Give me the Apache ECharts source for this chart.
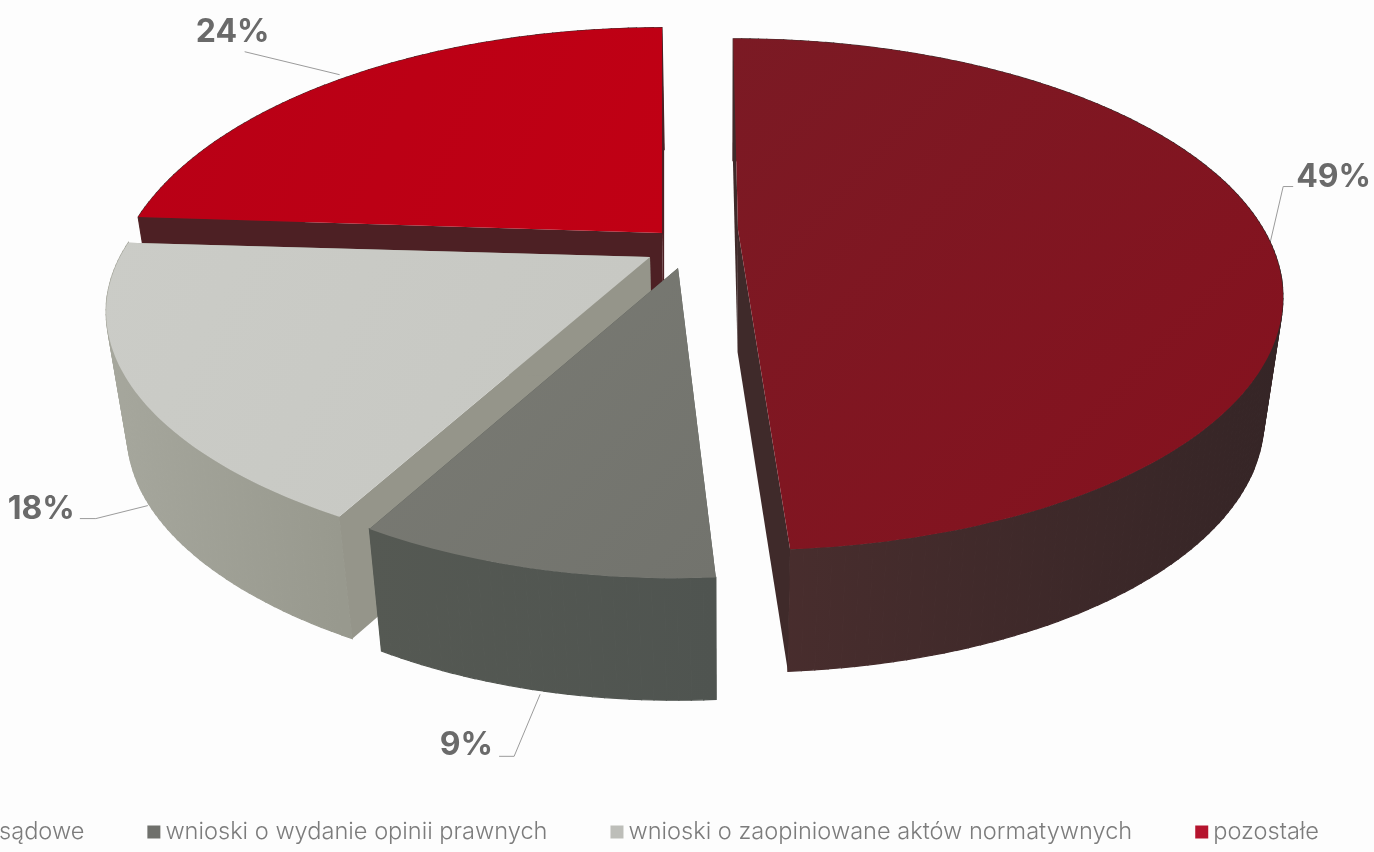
<!DOCTYPE html>
<html><head><meta charset="utf-8">
<style>html,body{margin:0;padding:0;background:#fdfdfd}#c{width:1374px;height:852px}</style>
<script src="https://cdn.jsdelivr.net/npm/echarts@6/dist/echarts.min.js"></script>
</head><body><div id="c"></div>
<script>
// ---- data ----
const categories = ['sądowe', 'wnioski o wydanie opinii prawnych', 'wnioski o zaopiniowane aktów normatywnych', 'pozostałe'];
const values = [49, 9, 18, 24];

// ---- styling / layout ----
const legendColors = ['#7e1520', '#6f706c', '#bdbeb9', '#b5142e'];
const faceColors = [['#7b1a24', '#86111e'], ['#7a7b74', '#72736d'], ['#cbccc7', '#c6c7c2'], ['#b80016', '#c00014']];
const wallColors = [['#4a2e2e', '#352526'], ['#4f5450', '#555953'], ['#98998e', '#a6a79d'], ['#4d2024', '#552a2c']];
const radialWallColors = ['#3f2a2a', '#4f5450', '#95958a', '#4d2024'];
const apexes = [[738, 230], [678, 268], [650, 257], [662, 233]];
const xScales = [0.992, 0.9325, 1.0, 1.006];
const yScales = [1.006, 0.975, 0.97, 1.08];
const shears = [-6, 2.7, -15, 0];
const zOrder = [4, 3, 2, 1];
const radialZ = [2, 0.5, 2, 2];
const anchorNudge = [[11, 20], [2, 4], [-2, 0], [-14, 0]];
const leaderPts = [[[13, -56], [23, -56]], [[-26, 62], [-41, 62]], [[-52, 13], [-68, 13]], [[-95, -23]]];
const labelPos = [[26, -65, 'left'], [-47, 51, 'right'], [-73, 4, 'right'], [-107, -42, 'center']];
const onWall = [false, true, true, false];
const RX = 530, RY = 238, K = 0.252, DEPTH = 122, VX = 725, BOTTOM = 0.966;

const total = values.reduce((a, b) => a + b, 0);
function startAngle(i) {
  let s = 0;
  for (let j = 0; j < i; j++) s += values[j];
  return s / total * 2 * Math.PI;
}
function project(i, th) {
  const u = Math.sin(th), v = Math.cos(th), s = 1 / (1 + K * v);
  return [
    apexes[i][0] + (RX * xScales[i] * u + shears[i] * v) * s,
    apexes[i][1] - RY * yScales[i] * v * s
  ];
}
const lower = p => [VX + (p[0] - VX) * BOTTOM, p[1] + DEPTH];
const grad = c => new echarts.graphic.LinearGradient(0, 0, 1, 1, [{offset: 0, color: c[0]}, {offset: 1, color: c[1]}]);

function renderSlice(i) {
  return function (params, api) {
    const value = api.value(0);
    const a0 = startAngle(i), a1 = a0 + value / total * 2 * Math.PI;
    const arc = [];
    const n = Math.max(8, Math.ceil((a1 - a0) / 0.02));
    for (let k = 0; k <= n; k++) arc.push(project(i, a0 + (a1 - a0) * k / n));
    const apex = apexes[i];
    const apexLow = lower(apex);
    const children = [];
    // leader line, under the solid
    const mid = project(i, (a0 + a1) / 2);
    const anchor0 = onWall[i] ? lower(mid) : mid;
    const anchor = [anchor0[0] + anchorNudge[i][0], anchor0[1] + anchorNudge[i][1]];
    const pts = [anchor].concat(leaderPts[i].map(d => [anchor[0] + d[0], anchor[1] + d[1]]));
    children.push({type: 'polyline', z2: 0, shape: {points: pts}, style: {fill: null, stroke: '#9b9b9b', lineWidth: 1}, silent: true});
    // outer wall, one quad per arc step so the silhouette stays tangent; one shared screen-space gradient
    const xs = arc.map(p => p[0]);
    const x0 = Math.min.apply(null, xs), x1 = Math.max.apply(null, xs);
    const wallFill = i === 0
      ? new echarts.graphic.LinearGradient(x0, 0, x1, 0, [{offset: 0, color: wallColors[i][0]}, {offset: 1, color: wallColors[i][1]}], true)
      : new echarts.graphic.LinearGradient(x0, 0, x1, 0, [{offset: 0, color: wallColors[i][1]}, {offset: 1, color: wallColors[i][0]}], true);
    for (let k = 0; k < n; k++) {
      children.push({type: 'polygon', z2: 1, shape: {points: [arc[k], arc[k + 1], lower(arc[k + 1]), lower(arc[k])]},
        style: {fill: wallFill, stroke: wallFill, lineWidth: 1.2}, silent: true});
    }
    // radial walls
    const first = arc[0], last = arc[arc.length - 1];
    children.push({type: 'polygon', z2: radialZ[i], shape: {points: [apex, first, lower(first), apexLow]}, style: {fill: radialWallColors[i]}, silent: true});
    children.push({type: 'polygon', z2: radialZ[i], shape: {points: [apex, last, lower(last), apexLow]}, style: {fill: radialWallColors[i]}, silent: true});
    // top face
    children.push({type: 'polygon', z2: 3, shape: {points: [apex].concat(arc)}, style: {fill: grad(faceColors[i])}, silent: true});
    // label
    children.push({type: 'text', z2: 4, x: anchor[0] + labelPos[i][0], y: anchor[1] + labelPos[i][1],
      style: {text: value + '%', fontFamily: 'Inter', fontWeight: 700, fontSize: 32, fill: '#6a6a6a', align: labelPos[i][2], verticalAlign: 'middle'}, silent: true});
    return {type: 'group', children: children};
  };
}

const chart = echarts.init(document.getElementById('c'), null, {renderer: 'canvas'});
chart.setOption({
  animation: false,
  backgroundColor: '#fdfdfd',
  legend: {
    data: categories.map(n => ({name: n, icon: 'rect'})),
    left: -24, top: 815, width: 1600, itemWidth: 13, itemHeight: 13, itemGap: 63,
    selectedMode: false,
    textStyle: {fontFamily: 'Inter', fontWeight: 300, fontSize: 23.6, color: '#7c7c7c'}
  },
  series: categories.map((name, i) => ({
    type: 'custom', name, coordinateSystem: 'none', z: zOrder[i],
    itemStyle: {color: legendColors[i]},
    silent: true,
    data: [values[i]],
    renderItem: renderSlice(i)
  }))
});
</script></body></html>
